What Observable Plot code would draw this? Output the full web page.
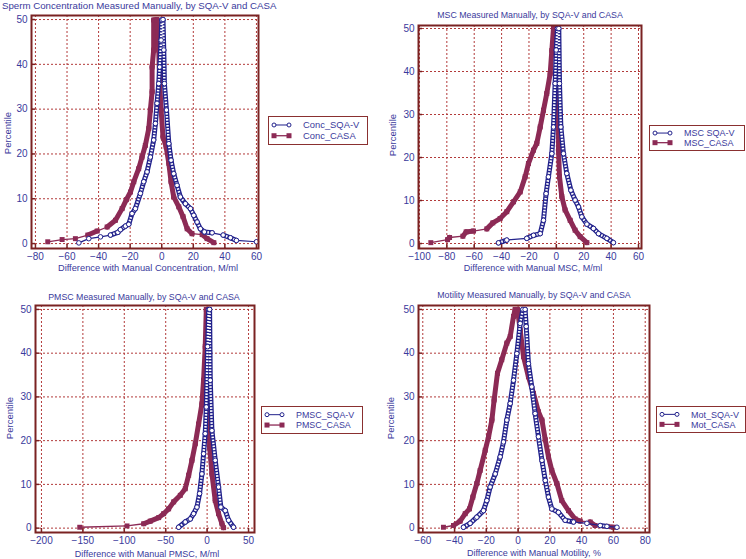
<!DOCTYPE html>
<html><head><meta charset="utf-8">
<script src="https://cdn.jsdelivr.net/npm/d3@7"></script>
<script src="https://cdn.jsdelivr.net/npm/@observablehq/plot@0.6"></script>
<style>
body{margin:0;background:#fff;}
#root{position:relative;width:746px;height:559px;overflow:hidden;font-family:"Liberation Sans",Arial,sans-serif;color:#3a3a9c;}
.t{position:absolute;white-space:nowrap;transform:translate(-50%,-50%);line-height:1;}
.legend{position:absolute;border:1px solid #8a3030;background:#fff;box-sizing:border-box;}
</style></head>
<body><div id="root"></div>
<script>
// ---- data: [difference, percentile] pairs ----
const concSQA = [[-52.5,0.15],[-46.2,1.1],[-38.8,1.5],[-32.5,1.9],[-27.8,2.5],[-26.2,3.1],[-23,3.9],[-20.9,4.3],[-18.8,6.7],[-16.7,7.8],[-13.5,11.2],[-11.4,13.8],[-9.3,16],[-7.2,19.3],[-5.1,23.1],[-4,26.8],[-3,31.3],[-1.9,35.7],[-1.3,39.4],[-0.4,45.4],[0,49.9],[0.8,50],[1.3,43.2],[1.7,35.7],[3,29.8],[4.5,22.3],[5.9,18.6],[7.6,15.6],[9.7,13],[11.8,10.4],[15,8.9],[18.2,7.8],[20.3,6.3],[22.4,4.8],[24.5,3.3],[27,2.6],[31.9,2.4],[38.9,1.9],[43.5,1.3],[47.3,0.7],[60,0.4]];
const concCASA = [[-72.2,0.4],[-63.1,0.9],[-54.7,1.1],[-46.8,1.9],[-40.9,2.8],[-34.6,3.7],[-29.3,5.2],[-25.1,7.8],[-22.4,9.8],[-19.8,11.5],[-17.7,13.8],[-14.6,16.7],[-12.5,19.3],[-10.4,21.9],[-8.2,25.7],[-7.2,29.8],[-6.1,33.9],[-6.1,39.4],[-5.1,43.2],[-5.1,49.9],[-3,50],[-1.9,43.2],[-1.3,35.7],[-0.4,29.8],[0.8,23.8],[2.8,21.6],[4.5,17.9],[5.9,13.8],[7.6,10.4],[10.8,8.2],[13.5,6],[16.1,3.3],[19.2,2.2],[25.6,2],[28.7,1.1],[33,0.2]];
const mscSQA = [[-42.3,0.15],[-36.2,0.8],[-21.6,1.2],[-16.7,1.9],[-11.8,2.3],[-9.4,5.4],[-7.5,11.6],[-5.8,15.5],[-3.3,20.9],[-2.1,27.1],[-0.9,37.2],[-0.1,45],[0.8,50],[1.8,50],[2.3,37.2],[3.3,27.1],[5.2,20.9],[7.6,16.3],[10.6,12.4],[13.7,10.1],[16.2,8.5],[18.6,6.2],[22.3,4.5],[27.1,3.5],[30.8,2.3],[36.9,1.2],[41.7,0.2]];
const mscCASA = [[-91.7,0.2],[-79.5,0.9],[-78,1.4],[-68.3,1.7],[-65.9,2.7],[-60.5,2.9],[-50.8,3.4],[-46.4,4.8],[-41.1,5.8],[-36.2,7.4],[-31.3,9.7],[-26.4,12],[-22.8,15.5],[-20.4,18.6],[-16.7,21.7],[-14.3,23.3],[-11.8,27.1],[-9.4,31],[-7,34.9],[-4.5,39.5],[-3.3,44.9],[-2.1,50],[-0.1,50],[0.8,41],[1.6,31],[1.6,21.7],[2.3,15.5],[4,10.9],[6.4,7.8],[10.1,5.4],[13.7,3.1],[17.4,1.6],[22.3,0.2]];
const pmscSQA = [[-34.4,0.2],[-26.4,1.4],[-20.3,2.1],[-16.3,3.3],[-12.3,4.8],[-9.1,7.9],[-6.3,12.4],[-4.3,17],[-2.3,21.6],[-1,27.7],[0.6,41.5],[1.8,50],[3,50],[3.8,33.8],[5.8,22.3],[9.8,15.5],[13.8,9.4],[16.6,4.8],[21.9,4],[25.9,1.8],[31.9,0.2]];
const pmscCASA = [[-153.8,0.2],[-96.7,0.5],[-76.6,1],[-68.6,1.6],[-58.5,2.4],[-52.5,3.3],[-46.5,4.4],[-40.4,6],[-32.4,7.5],[-26.4,9],[-22.3,12.1],[-18.3,15.5],[-14.3,19.3],[-10.3,23.8],[-6.3,28.4],[-4.3,33.8],[-2.3,41.5],[-1,50],[2.2,50],[1.8,41.5],[1.8,31.5],[3,18.5],[5.8,12.4],[9.8,6.3],[13.8,3.3],[17.9,1],[19.9,0.1]];
const motSQA = [[-34.4,0.2],[-30.2,1.1],[-26,2.5],[-21.8,4],[-19.7,6.3],[-17.6,9.4],[-14.4,12.4],[-11.3,16.3],[-9.2,19.7],[-7.1,24.7],[-5,28.5],[-2.9,33.8],[-0.8,39.9],[1.3,46.8],[3,50],[4.4,50],[5.1,46.1],[6.5,37.6],[8.6,32.3],[10.7,26.2],[12.8,20.9],[15,15.5],[17.1,10.9],[19.1,7.1],[21.2,4.4],[25.4,3.6],[29.6,1.8],[34.9,1.4],[43.3,1.1],[51.7,0.6],[55.9,0.4],[62.2,0.2]];
const motCASA = [[-47,0.2],[-40.7,0.6],[-36.5,1.6],[-33.3,3.3],[-30.6,4.4],[-28.5,7.1],[-26,10.2],[-23.9,13.2],[-20.7,17.8],[-18.6,20.9],[-16.5,24.7],[-15.1,29.3],[-13,35.4],[-10.3,38.5],[-7.1,42.3],[-5,43.8],[-2.9,48.4],[-1.9,50],[-0.4,50],[1.3,45.3],[3.4,39.2],[6.5,34.6],[9.7,30.8],[12.8,26.6],[15,24.7],[17.1,20.2],[19.1,16.3],[21.2,13.2],[24.4,10.2],[27.5,6.3],[31.7,4],[35.9,2.1],[39.1,1.6],[45.4,1.4],[48.5,0.6],[55.9,0.4],[60.1,0.2]];

const percentileTicks = [0,10,20,30,40,50];
const concTicks = [-80,-60,-40,-20,0,20,40,60];
const mscTicks = [-100,-80,-60,-40,-20,0,20,40,60];
const pmscTicks = [-200,-150,-100,-50,0,50];
const motTicks = [-60,-40,-20,0,20,40,60,80];

const titles = ["Sperm Concentration Measured Manually, by SQA-V and CASA","MSC Measured Manually, by SQA-V and CASA","PMSC Measured Manually, by SQA-V and CASA","Motility Measured Manually, by SQA-V and CASA"];
const xLabels = ["Difference with Manual Concentration, M/ml","Difference with Manual MSC, M/ml","Difference with Manual PMSC, M/ml","Difference with Manual Motility, %"];
const yLabel = "Percentile";
const seriesNames = [["Conc_SQA-V","Conc_CASA"],["MSC SQA-V","MSC_CASA"],["PMSC_SQA-V","PMSC_CASA"],["Mot_SQA-V","Mot_CASA"]];

// ---- styling / layout ----
const TEXT="#3a3a9c", SQA="#22228c", CASA="#8c2a55", FRAME="#7a2222", GRID="#b23a3a";
const FONT='"Liberation Sans", Arial, sans-serif';
const W=746, H=559;

const panels = [
  {sqa:concSQA, casa:concCASA, ticks:concTicks, frame:[31,15,258,248], xDomain:[-82.5,61.3], yDomain:[-1.1,50.9],
   title:[2,6,"left",9.7], xl:[148,269,9.3], yl:[8,133], legend:[268,116,100,29,9.4]},
  {sqa:mscSQA, casa:mscCASA, ticks:mscTicks, frame:[418,25,641,248], xDomain:[-100.7,62.2], yDomain:[-1.16,50.7],
   title:[530,15,"center",8.8], xl:[533,268,9], yl:[393,135], legend:[649,125,96,26,9]},
  {sqa:pmscSQA, casa:pmscCASA, ticks:pmscTicks, frame:[35,305,254,532], xDomain:[-207.2,57.2], yDomain:[-1.0,50.9],
   title:[144,297,"center",8.8], xl:[147,554,9], yl:[10,418], legend:[261,406,102,28,8.9]},
  {sqa:motSQA, casa:motCASA, ticks:motTicks, frame:[418,305,649,532], xDomain:[-62.7,82.7], yDomain:[-1.0,50.9],
   title:[534,295,"center",8.8], xl:[534,553,9], yl:[391,418], legend:[656,406,90,27,9]}
];

const root = document.getElementById("root");

function addText(txt, x, y, size, opts={}){
  const d=document.createElement("div");
  d.className="t"; d.textContent=txt;
  d.style.left=x+"px"; d.style.top=y+"px"; d.style.fontSize=size+"px";
  if(opts.align==="left"){d.style.transform="translate(0,-50%)";}
  if(opts.rotate){d.style.transform="translate(-50%,-50%) rotate(-90deg)";}
  root.appendChild(d);
}

panels.forEach((c,i)=>{
  const [fx0,fy0,fx1,fy1]=c.frame;
  const kx=(fx1-fx0)/(c.xDomain[1]-c.xDomain[0]);
  const ky=(fy1-fy0)/(c.yDomain[1]-c.yDomain[0]);
  // dense stretches (many overlapping markers in the original) drawn as a thick band; sparse tail gaps stay thin
  const segs = arr => d3.pairs(arr).map(([a,b])=>{
    const dxp=Math.abs(b[0]-a[0])*kx, dyp=Math.abs(b[1]-a[1])*ky;
    return {x1:a[0],y1:a[1],x2:b[0],y2:b[1],dense: !(dxp>9.5 && dyp<6)};
  });
  const cs = segs(c.casa), ss = segs(c.sqa);
  const lk = {x1:"x1",y1:"y1",x2:"x2",y2:"y2"};
  const svg = Plot.plot({
    width:W, height:H,
    marginLeft:fx0, marginTop:fy0, marginRight:W-fx1, marginBottom:H-fy1,
    style:{background:"transparent",color:TEXT,fontFamily:FONT,fontSize:"10px",position:"absolute",left:"0px",top:"0px",overflow:"visible"},
    x:{domain:c.xDomain}, y:{domain:c.yDomain},
    marks:[
      Plot.gridX(c.ticks,{stroke:GRID,strokeOpacity:1,strokeWidth:1,strokeDasharray:"2,2"}),
      Plot.gridY(percentileTicks,{stroke:GRID,strokeOpacity:1,strokeWidth:1,strokeDasharray:"2,2"}),
      Plot.link(cs,{...lk,stroke:CASA,strokeWidth:1.3}),
      Plot.link(cs.filter(d=>d.dense),{...lk,stroke:CASA,strokeWidth:5,strokeLinecap:"round"}),
      Plot.dot(c.casa,{x:d=>d[0],y:d=>d[1],symbol:"square",fill:CASA,r:2.8}),
      Plot.line(c.sqa,{x:d=>d[0],y:d=>d[1],stroke:SQA,strokeWidth:1.2}),
      Plot.link(ss.filter(d=>d.dense),{...lk,stroke:SQA,strokeWidth:5,strokeLinecap:"round"}),
      Plot.link(ss.filter(d=>d.dense),{...lk,stroke:"white",strokeWidth:2.4,strokeDasharray:"1.6,1.4"}),
      Plot.dot(c.sqa,{x:d=>d[0],y:d=>d[1],stroke:SQA,fill:"white",r:2.3,strokeWidth:1}),
      Plot.frame({stroke:FRAME,strokeWidth:2}),
      // short inward ticks on the frame, as in the original
      Plot.axisX(c.ticks,{tickSize:-4,text:null,stroke:FRAME,strokeWidth:1.5,label:null}),
      Plot.axisY(percentileTicks,{tickSize:-4,text:null,stroke:FRAME,strokeWidth:1.5,label:null}),
      Plot.axisX(c.ticks,{tickSize:0,tickPadding:4,label:null}),
      Plot.axisY(percentileTicks,{tickSize:0,tickPadding:4,label:null})
    ]
  });
  root.appendChild(svg);

  if(c.title[2]==="left") addText(titles[i], c.title[0], c.title[1], c.title[3], {align:"left"});
  else addText(titles[i], c.title[0], c.title[1], c.title[3]);
  addText(xLabels[i], c.xl[0], c.xl[1], c.xl[2]);
  addText(yLabel, c.yl[0], c.yl[1], 9.5, {rotate:true});

  // legend box
  const [lx,ly,lw,lh,fs]=c.legend;
  const r1=lh*0.31, r2=lh*0.68;
  const lg=document.createElement("div");
  lg.className="legend";
  lg.style.left=lx+"px"; lg.style.top=ly+"px"; lg.style.width=lw+"px"; lg.style.height=lh+"px";
  lg.innerHTML = `<svg width="${lw}" height="${lh}" style="position:absolute;left:-1px;top:-1px">
    <line x1="6" x2="21" y1="${r1}" y2="${r1}" stroke="${SQA}" stroke-width="1"/>
    <circle cx="6" cy="${r1}" r="2" fill="white" stroke="${SQA}"/>
    <circle cx="21" cy="${r1}" r="2" fill="white" stroke="${SQA}"/>
    <line x1="6" x2="21" y1="${r2}" y2="${r2}" stroke="${CASA}" stroke-width="1.3"/>
    <rect x="3.5" y="${r2-2.5}" width="5" height="5" fill="${CASA}"/>
    <rect x="18.5" y="${r2-2.5}" width="5" height="5" fill="${CASA}"/>
    <text x="35" y="${r1}" dy="0.35em" font-size="${fs}" fill="${TEXT}" font-family='${FONT}'>${seriesNames[i][0]}</text>
    <text x="35" y="${r2}" dy="0.35em" font-size="${fs}" fill="${TEXT}" font-family='${FONT}'>${seriesNames[i][1]}</text>
  </svg>`;
  root.appendChild(lg);
});
</script>
</body></html>
